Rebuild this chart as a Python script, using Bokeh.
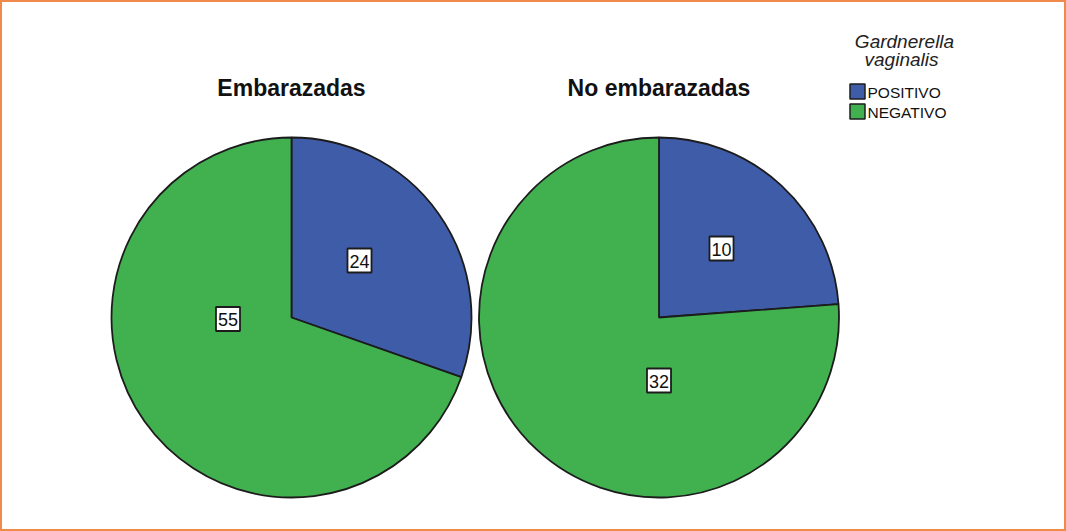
import math
from bokeh.plotting import figure
from bokeh.models import Range1d
from bokeh.core.properties import value
from bokeh.embed import file_html
from bokeh.resources import INLINE

# ---- data ----
groups = ["Embarazadas", "No embarazadas"]
categories = ["POSITIVO", "NEGATIVO"]
positivo = [24, 10]
negativo = [55, 32]
legend_title = ["Gardnerella", "vaginalis"]

# ---- style / layout ----
colors = {"POSITIVO": "#3F5CA8", "NEGATIVO": "#41B150"}
W, H = 1066, 531
H_IMG = 531
centers_x = [291, 658.5]
center_y_img = 317
R = 180
# label anchor positions (image pixels) per group: [positivo, negativo]
label_pos = [[(359, 260), (227.5, 318.5)], [(721, 248), (658.5, 380)]]


def Y(img_y):
    return H_IMG - img_y


p = figure(width=W, height=H, output_backend="svg", toolbar_location=None,
           x_range=Range1d(0, W), y_range=Range1d(Y(H), Y(0)),
           min_border=0)
p.axis.visible = False
p.grid.visible = False
p.outline_line_color = "#F08A4B"
p.outline_line_width = 3
p.background_fill_color = "white"
p.border_fill_color = "white"

for gi, g in enumerate(groups):
    vals = [positivo[gi], negativo[gi]]
    total = sum(vals)
    theta = 2 * math.pi * vals[0] / total
    cx, cy = centers_x[gi], Y(center_y_img)
    # POSITIVO: clockwise from 12 o'clock
    p.wedge(x=[cx], y=[cy], radius=R, start_angle=[math.pi / 2 - theta],
            end_angle=[math.pi / 2], direction="anticlock",
            fill_color=colors["POSITIVO"], line_color="#1c1c1c", line_width=1.8)
    p.wedge(x=[cx], y=[cy], radius=R, start_angle=[math.pi / 2],
            end_angle=[math.pi / 2 - theta], direction="anticlock",
            fill_color=colors["NEGATIVO"], line_color="#1c1c1c", line_width=1.8)
    # titles
    p.text(x=[cx], y=[Y(87)], text=[g], text_align="center",
           text_baseline="middle", text_font=value("Liberation Sans"),
           text_font_style="bold", text_font_size="23px", text_color="#111111")
    # value labels
    for vi, v in enumerate(vals):
        lx, ly = label_pos[gi][vi]
        p.text(x=[lx], y=[Y(ly)], text=[str(v)], text_align="center",
               text_baseline="middle", text_font=value("Liberation Sans"),
               text_font_size="18px", text_color="#111111",
               background_fill_color="white", border_line_color="#1c1c1c",
               border_line_width=1.8,
               padding=dict(left=2, right=2, top=6, bottom=5))

# ---- legend (manual) ----
p.text(x=[904], y=[Y(41)], text=[legend_title[0]], text_align="center",
       text_baseline="middle", text_font=value("Liberation Sans"),
       text_font_style="italic", text_font_size="19px", text_color="#222222")
p.text(x=[901], y=[Y(59)], text=[legend_title[1]], text_align="center",
       text_baseline="middle", text_font=value("Liberation Sans"),
       text_font_style="italic", text_font_size="19px", text_color="#222222")
leg_y = [91, 111]
for ci, c in enumerate(categories):
    p.rect(x=[857], y=[Y(leg_y[ci])], width=15, height=15,
           fill_color=colors[c], line_color="#1c1c1c", line_width=1.5)
    p.text(x=[867], y=[Y(leg_y[ci] + 1)], text=[c], text_align="left",
           text_baseline="middle", text_font=value("Liberation Sans"),
           text_font_size="15.5px", text_color="#111111")

open("out.html", "w").write(file_html(p, INLINE))
